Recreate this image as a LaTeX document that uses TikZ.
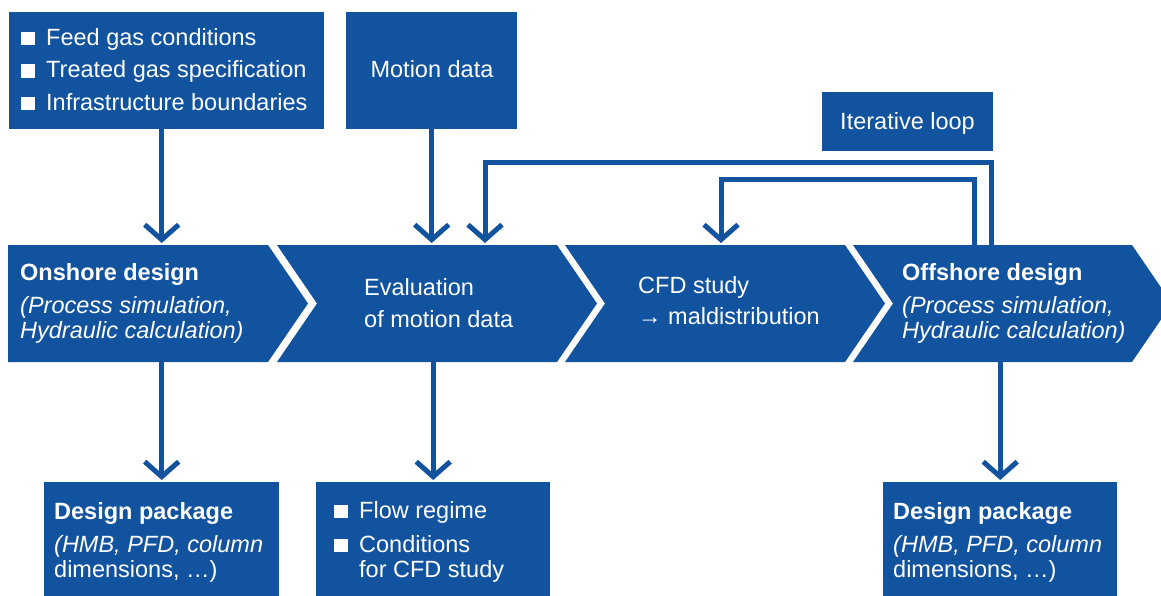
\documentclass[tikz,border=0pt]{standalone}
\usepackage{fontspec}
\setmainfont{Liberation Sans}
\usetikzlibrary{arrows.meta}
\definecolor{pblue}{RGB}{18,83,160}
\newcommand{\bsq}{\rule{13.5pt}{13.5pt}\hspace{11.5pt}}
\begin{document}
\begin{tikzpicture}[x=1pt,y=-1pt,
  blk/.style={fill=pblue, draw=none, inner sep=0pt, anchor=north west},
  zone/.style={draw=none, inner sep=0pt, anchor=north west, minimum height=117pt},
  lbl/.style={text=white, inner sep=0pt, anchor=base west, align=left, font=\fontsize{23.5}{25}\selectfont},
  flow/.style={draw=pblue, line width=5pt, shorten >=2pt, -{Straight Barb[length=15pt,width=34pt]}},
  chev/.style={fill=pblue}]
\useasboundingbox (0,0) rectangle (1161,595);
\clip (0,0) rectangle (1161,595);

% top boxes
\node[blk, minimum width=315pt, minimum height=117pt] (inA) at (9,12) {};
\node[blk, minimum width=171pt, minimum height=117pt] (motion) at (346,12) {};
\node[blk, minimum width=171pt, minimum height=59pt] (iter) at (822,92) {};

% chevrons
\fill[chev] (8,245) -- (268,245) -- (308,303.5) -- (268,362) -- (8,362) -- cycle;
\fill[chev] (277,245) -- (557,245) -- (597,303.5) -- (557,362) -- (277,362) -- (317,303.5) -- cycle;
\fill[chev] (565,245) -- (845,245) -- (885,303.5) -- (845,362) -- (565,362) -- (605,303.5) -- cycle;
\fill[chev] (853,245) -- (1132,245) -- (1172,303.5) -- (1132,362) -- (853,362) -- (893,303.5) -- cycle;
\node[zone, minimum width=260pt] (on) at (8,245) {};
\node[zone, minimum width=280pt] (ev) at (277,245) {};
\node[zone, minimum width=280pt] (cfd) at (565,245) {};
\node[zone, minimum width=279pt] (off) at (853,245) {};

% bottom boxes
\node[blk, minimum width=235pt, minimum height=120pt] (dpL) at (44,482) {};
\node[blk, minimum width=234pt, minimum height=120pt] (cond) at (316,482) {};
\node[blk, minimum width=234pt, minimum height=120pt] (dpR) at (883,482) {};

% texts (anchor base = baseline of last line)
\node[lbl, font=\fontsize{23.5}{32.5}\selectfont] (tA) at (21,110) {\bsq Feed gas conditions\\ \bsq Treated gas specification\\ \bsq Infrastructure boundaries};
\node[lbl, anchor=base] (tM) at (432,77) {Motion data};
\node[lbl, anchor=base] (tI) at (907.5,129) {Iterative loop};
\node[lbl] (tOn) at (20,338) {\textbf{Onshore design}\\[8pt] \textit{(Process simulation,}\\ \textit{Hydraulic calculation)}};
\node[lbl, font=\fontsize{23.5}{32}\selectfont] (tEv) at (364,327) {Evaluation\\ of motion data};
\node[lbl, font=\fontsize{23.5}{31}\selectfont] (tCfd) at (638,324) {CFD study\\ → maldistribution};
\node[lbl] (tOff) at (902,338) {\textbf{Offshore design}\\[8pt] \textit{(Process simulation,}\\ \textit{Hydraulic calculation)}};
\node[lbl] (tDpL) at (54,577) {\textbf{Design package}\\[8pt] \textit{(HMB, PFD, column}\\ dimensions, …)};
\node[lbl] (tCond) at (334,577) {\bsq Flow regime\\[9pt] \bsq Conditions\\ \hspace*{25pt}for CFD study};
\node[lbl] (tDpR) at (893,577) {\textbf{Design package}\\[8pt] \textit{(HMB, PFD, column}\\ dimensions, …)};

% connectors
\coordinate (oStart) at (991,245);
\coordinate (oTop) at (485,162);
\coordinate (iStart) at (974,245);
\coordinate (iTop) at (721,179.5);
\draw[flow] (inA.south -| dpL.north) -- (on.north -| dpL.north);
\draw[flow] (motion.south) -- (motion.south |- ev.north);
\draw[flow] (oStart) |- (oTop) -- (oTop |- ev.north);
\draw[flow] (iStart) |- (iTop) -- (iTop |- cfd.north);
\draw[flow] (on.south -| dpL.north) -- (dpL.north);
\draw[flow] (ev.south -| cond.north) -- (cond.north);
\draw[flow] (off.south -| dpR.north) -- (dpR.north);
\end{tikzpicture}
\end{document}
